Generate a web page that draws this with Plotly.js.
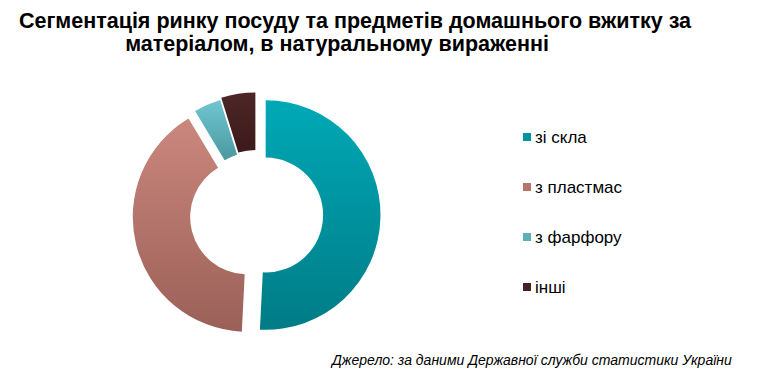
<!DOCTYPE html>
<html>
<head>
<meta charset="utf-8">
<script src="https://cdn.plot.ly/plotly-3.0.1.min.js"></script>
<style>
html,body{margin:0;padding:0;background:#fff;}
#chart{width:758px;height:374px;}
</style>
</head>
<body>
<div id="chart"></div>
<script>
// Data
const categories = ['зі скла', 'з пластмас', 'з фарфору', 'інші'];
const shares = [50.8, 40.6, 3.8, 4.8];
const colors = ['#0092A0', '#B5756B', '#5BAFB9', '#442122'];
const gradTop = ['#00A8B6', '#CB877D', '#70C6D0', '#4E2627'];
const gradBottom = ['#007C86', '#9A6058', '#4A98A0', '#3A1A1B'];
const pulls = [0.08, 0.08, 0.05, 0.065];
const titleLines = ['Сегментація ринку посуду та предметів домашнього вжитку за', 'матеріалом, в натуральному вираженні'];
const sourceText = 'Джерело: за даними Державної служби статистики України';

const W = 758, H = 374;
const px = v => v / W;
const py = v => 1 - v / H;
const FONT = 'Liberation Sans, Arial, sans-serif';
const NB = '\u00a0\u00a0\u00a0';

const trace = {
  type: 'pie',
  labels: categories,
  values: shares,
  hole: 0.5,
  sort: false,
  direction: 'clockwise',
  rotation: 0,
  pull: pulls,
  textinfo: 'none',
  hoverinfo: 'label+percent',
  marker: {colors: colors, line: {width: 0}},
  domain: {x: [px(256.5 - 124), px(256.5 + 124)], y: [py(214.8 + 124), py(214.8 - 124)]},
  showlegend: false
};

// custom legend: squares + labels
const legendY = [137, 187, 237, 287];
const shapes = categories.map((c, i) => ({
  type: 'rect', xref: 'paper', yref: 'paper',
  x0: px(523), x1: px(531), y0: py(legendY[i] + 4), y1: py(legendY[i] - 4),
  fillcolor: colors[i], line: {width: 0}
}));
const annotations = categories.map((c, i) => ({
  text: c, xref: 'paper', yref: 'paper', x: px(533), y: py(legendY[i]),
  xanchor: 'left', yanchor: 'middle', showarrow: false,
  font: {family: FONT, size: 17, color: '#000'}
}));
annotations.push({
  text: '<i>' + sourceText + '</i>', xref: 'paper', yref: 'paper',
  x: px(734), y: py(360), xanchor: 'right', yanchor: 'middle', showarrow: false,
  font: {family: FONT, size: 14, color: '#000'}
});

const layout = {
  width: W, height: H,
  margin: {l: 0, r: 0, t: 0, b: 0},
  paper_bgcolor: '#fff',
  title: {
    text: '<span style="font-size:21.5px">' + NB + titleLines[0] + '</span><br>' +
          '<span style="font-size:21.5px">' + titleLines[1] + NB + '</span>',
    x: px(346), xanchor: 'center', xref: 'paper',
    y: py(28), yanchor: 'top', yref: 'container',
    font: {family: FONT, size: 18, color: '#000', weight: 'bold'}
  },
  shapes: shapes,
  annotations: annotations,
  showlegend: false
};

Plotly.newPlot('chart', [trace], layout, {displayModeBar: false, staticPlot: true}).then(gd => {
  // vertical light-to-dark gradient on each slice, as in the reference
  const svg = gd.querySelector('svg.main-svg');
  const NS = 'http://www.w3.org/2000/svg';
  let defs = svg.querySelector('defs');
  if (!defs) { defs = document.createElementNS(NS, 'defs'); svg.insertBefore(defs, svg.firstChild); }
  gd.querySelectorAll('g.slice path.surface').forEach((p, i) => {
    const g = document.createElementNS(NS, 'linearGradient');
    g.setAttribute('id', 'sliceGrad' + i);
    g.setAttribute('x1', '0'); g.setAttribute('y1', '0');
    g.setAttribute('x2', '0'); g.setAttribute('y2', '1');
    [[0, gradTop[i]], [1, gradBottom[i]]].forEach(([o, c]) => {
      const s = document.createElementNS(NS, 'stop');
      s.setAttribute('offset', o); s.setAttribute('stop-color', c);
      g.appendChild(s);
    });
    defs.appendChild(g);
    p.style.fill = 'url(#sliceGrad' + i + ')';
  });
});
</script>
</body>
</html>
